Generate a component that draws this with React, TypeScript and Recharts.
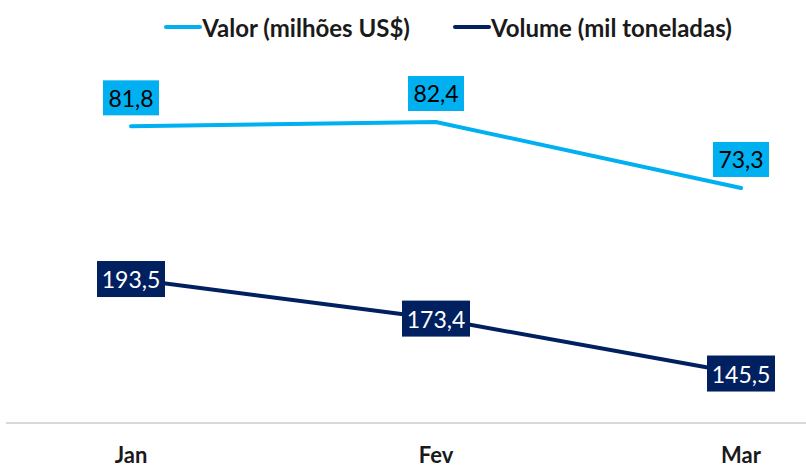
import React from 'react';
import { LineChart, Line, XAxis, YAxis, Legend, LabelList } from 'recharts';

const months = ['Jan', 'Fev', 'Mar'];
const valor = [81.8, 82.4, 73.3];
const volume = [193.5, 173.4, 145.5];

const data = months.map((m, i) => ({ month: m, valor: valor[i], volume: volume[i] }));

const LIGHT = '#00B0F0';
const NAVY = '#002060';
const FONT = 'Lato, "Open Sans", sans-serif';

const fmt = (v: number) => v.toFixed(1).replace('.', ',');

// box label sitting above the point
function ValorLabel(props: any) {
  const { x, y, value } = props;
  const w = 56;
  const h = 35;
  return (
    <g>
      <rect x={x - w / 2} y={y - 11 - h} width={w} height={h} fill={LIGHT} />
      <text x={x} y={y - 11 - h / 2} textAnchor="middle" dominantBaseline="central"
        fill="#000" fontSize={23} fontFamily={FONT}>
        {fmt(value)}
      </text>
    </g>
  );
}

// box label centred on the point
function VolumeLabel(props: any) {
  const { x, y, value } = props;
  const w = 68;
  const h = 36;
  return (
    <g>
      <rect x={x - w / 2} y={y - h / 2} width={w} height={h} fill={NAVY} />
      <text x={x} y={y} textAnchor="middle" dominantBaseline="central"
        fill="#fff" fontSize={23} fontFamily={FONT}>
        {fmt(value)}
      </text>
    </g>
  );
}

function LegendBox() {
  const item = (color: string, label: string, gap: number) => (
    <div style={{ display: 'flex', alignItems: 'center', marginRight: gap }}>
      <div style={{ width: 38, height: 4, background: color, borderRadius: 2 }} />
      <span style={{ fontWeight: 700, fontSize: 24, color: '#1a1a1a', fontFamily: FONT }}>{label}</span>
    </div>
  );
  return (
    <div style={{ height: 36, boxSizing: 'border-box', paddingTop: 10, display: 'flex', justifyContent: 'center', alignItems: 'center', paddingLeft: 84 }}>
      {item(LIGHT, 'Valor (milhões US$)', 43)}
      {item(NAVY, 'Volume (mil toneladas)', 0)}
    </div>
  );
}

export default function App() {
  return (
    <div style={{ position: 'absolute', left: 0, top: 0, background: '#fff' }}>
      <LineChart width={806} height={467} data={data} margin={{ top: 4, right: 0, bottom: 0, left: 6 }}>
        <Legend verticalAlign="top" content={() => <LegendBox />} />
        <XAxis
          dataKey="month"
          height={44}
          padding={{ left: 125, right: 65 }}
          tickLine={false}
          axisLine={{ stroke: '#d9d9d9', strokeWidth: 2 }}
          tick={{ fill: '#1a1a1a', fontSize: 22, fontWeight: 700, fontFamily: FONT }}
          tickMargin={18}
        />
        <YAxis yAxisId="v" hide domain={[40.88, 93.71]} />
        <YAxis yAxisId="t" hide orientation="right" domain={[120.37, 314.9]} />
        <Line yAxisId="v" dataKey="valor" stroke={LIGHT} strokeWidth={4} dot={false}
          isAnimationActive={false} strokeLinecap="round">
          <LabelList dataKey="valor" content={<ValorLabel />} />
        </Line>
        <Line yAxisId="t" dataKey="volume" stroke={NAVY} strokeWidth={4} dot={false}
          isAnimationActive={false} strokeLinecap="round">
          <LabelList dataKey="volume" content={<VolumeLabel />} />
        </Line>
      </LineChart>
    </div>
  );
}
